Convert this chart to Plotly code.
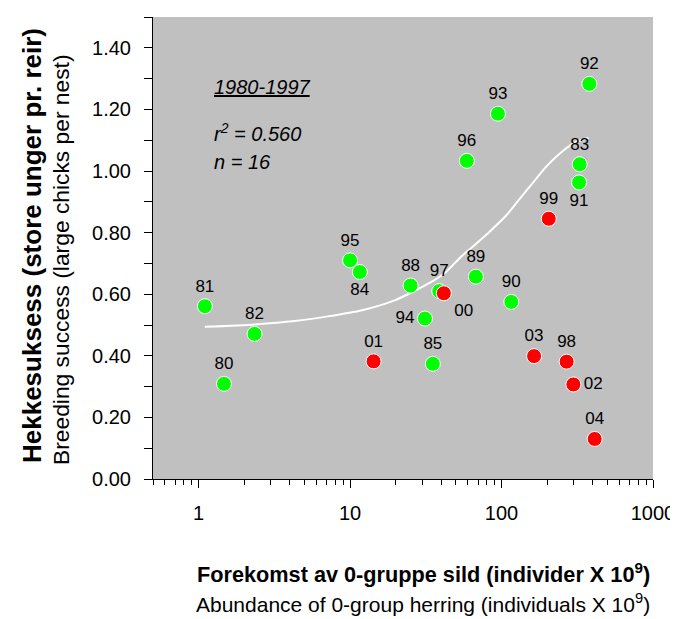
import numpy as np
import plotly.graph_objects as go

# 1980-1997 (green)
green_years = ["80", "81", "82", "83", "84", "85", "88", "89", "90", "91", "92", "93", "94", "95", "96", "97"]
green_x = [1.47, 1.10, 2.34, 328, 11.6, 35.2, 25.1, 67.7, 116, 325, 380, 94.7, 31.2, 10.0, 59.0, 38.8]
green_y = [0.309, 0.561, 0.471, 1.022, 0.672, 0.374, 0.628, 0.657, 0.575, 0.963, 1.283, 1.186, 0.521, 0.710, 1.033, 0.610]
green_pos = ["top center", "top center", "top center", "top center", "bottom center", "top center",
             "top center", "top center", "top center", "bottom center", "top center", "top center",
             "middle left", "top center", "top center", "top center"]

# 1998-2004 (red)
red_years = ["98", "99", "00", "01", "02", "03", "04"]
red_x = [269, 205, 41.6, 14.3, 298, 164, 412]
red_y = [0.381, 0.845, 0.603, 0.382, 0.307, 0.399, 0.130]
red_pos = ["top center", "top center", "bottom right", "top center", "middle right", "top center", "top center"]

# fitted curve
fit_x = [1.10, 2.35, 4.31, 7.13, 12.0, 19.7, 26.0, 35.3, 43.2, 52.8, 64.7, 83.4, 108, 138, 157, 198, 255, 312, 375]
fit_y = [0.494, 0.502, 0.513, 0.528, 0.548, 0.580, 0.608, 0.643, 0.673, 0.717, 0.755, 0.803, 0.857, 0.922,
         0.955, 1.015, 1.066, 1.095, 1.107]

FONT = "Liberation Sans, Arial, sans-serif"

fig = go.Figure()
fig.add_trace(go.Scatter(x=fit_x, y=fit_y, mode="lines",
                         line=dict(color="white", width=2, shape="spline", smoothing=0.6),
                         hoverinfo="skip"))
for xs, ys, yrs, pos, col in [(green_x, green_y, green_years, green_pos, "#00ff00"),
                              (red_x, red_y, red_years, red_pos, "#ff0000")]:
    fig.add_trace(go.Scatter(
        x=xs, y=ys, text=yrs, textposition=pos, mode="markers+text",
        marker=dict(size=15, color=col, line=dict(color="white", width=1)),
        textfont=dict(family=FONT, size=17, color="black"),
    ))

xr = [np.log10(0.5), 3]
minor_x = [m * 10.0 ** d for d in range(-1, 3) for m in range(2, 10) if m * 10.0 ** d >= 0.5]
xaxis_common = dict(type="log", range=xr, showgrid=False, zeroline=False, showline=True, automargin=False,
                    linecolor="black", linewidth=1, tickcolor="black", tickvals=[1, 10, 100, 1000])
# the page body keeps its default 8px margin, so the figure is 8px smaller than the window
fig.update_layout(
    width=670, height=611,
    margin=dict(l=145, r=25, t=9, b=140),
    paper_bgcolor="white", plot_bgcolor="#c0c0c0",
    showlegend=False,
    xaxis=dict(**xaxis_common, ticks="outside", ticklen=8, ticktext=["1", "10", "100", "1000"],
               tickfont=dict(family=FONT, size=20, color="black"), ticklabelstandoff=8,
               minor=dict(tickmode="array", tickvals=minor_x, ticks="outside", ticklen=5, tickcolor="black")),
    xaxis2=dict(**xaxis_common, overlaying="x", side="top", anchor="y", ticks="inside", ticklen=7,
                showticklabels=False,
                minor=dict(tickmode="array", tickvals=minor_x, ticks="inside", ticklen=5, tickcolor="black")),
    yaxis=dict(range=[0, 1.5], showgrid=False, zeroline=False, showline=True, linecolor="black", linewidth=1,
               automargin=False, ticks="outside", ticklen=8, tickcolor="black", tick0=0, dtick=0.2,
               tickformat=".2f", tickfont=dict(family=FONT, size=20, color="black"), ticklabelstandoff=9,
               minor=dict(dtick=0.1, ticks="outside", ticklen=8, tickcolor="black")),
    yaxis2=dict(range=[0, 1.5], overlaying="y", side="right", anchor="x", showgrid=False, zeroline=False,
                automargin=False, showline=True, linecolor="black", linewidth=1, ticks="inside", ticklen=7,
                tickcolor="black", tick0=0, dtick=0.1, showticklabels=False),
)

# stats text
for text, y in [("<i><u>1980-1997</u></i>", 0.848), ("<i>r<sup>2</sup> = 0.560</i>", 0.751), ("<i>n = 16</i>", 0.686)]:
    fig.add_annotation(text=text, xref="paper", yref="paper", x=0.118, y=y, xanchor="left", yanchor="middle",
                       showarrow=False, font=dict(family=FONT, size=20, color="black"))

# axis titles
fig.add_annotation(text="<b>Forekomst av 0-gruppe sild (individer X 10<sup>9</sup>)</b>", xref="paper", yref="paper",
                   x=0.54, y=0, yshift=-94, xanchor="center", yanchor="middle", showarrow=False,
                   font=dict(family=FONT, size=21.7, color="black"))
fig.add_annotation(text="Abundance of 0-group herring (individuals X 10<sup>9</sup>)", xref="paper", yref="paper",
                   x=0.54, y=0, yshift=-124, xanchor="center", yanchor="middle", showarrow=False,
                   font=dict(family=FONT, size=21, color="black"))
fig.add_annotation(text="<b>Hekkesuksess (store unger pr. reir)</b>", xref="paper", yref="paper",
                   x=0, xshift=-121, y=0.5, yshift=2, textangle=-90, xanchor="center", yanchor="middle",
                   showarrow=False, font=dict(family=FONT, size=26, color="black"))
fig.add_annotation(text="Breeding success (large chicks per nest)", xref="paper", yref="paper",
                   x=0, xshift=-92, y=0.5, yshift=-12, textangle=-90, xanchor="center", yanchor="middle",
                   showarrow=False, font=dict(family=FONT, size=22.8, color="black"))

fig.write_html("out.html")
